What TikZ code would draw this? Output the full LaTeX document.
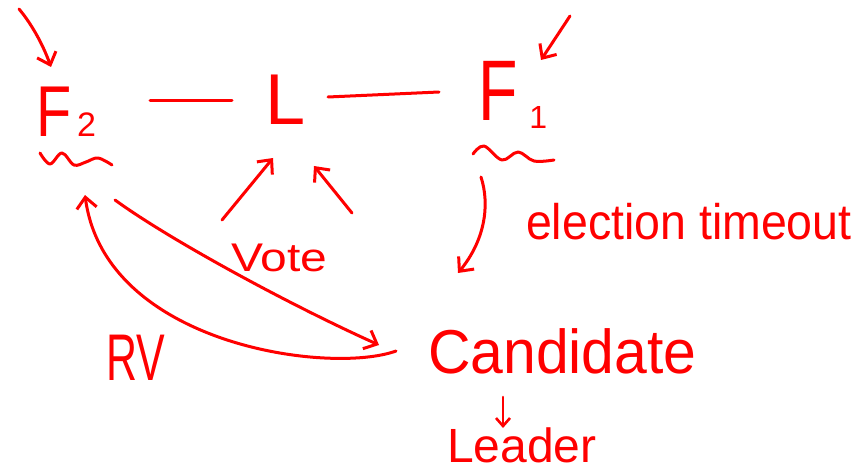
\documentclass[tikz,border=0pt]{standalone}
\usepackage{fontspec}
\usepackage{graphicx}
\setmainfont{Liberation Sans}
\usetikzlibrary{arrows.meta}
\definecolor{inkred}{RGB}{255,0,0}
\begin{document}
\begin{tikzpicture}[x=1pt,y=-1pt,
  ink/.style={draw=inkred, line width=3pt, line cap=round, line join=round},
  arr/.style={ink, -{Straight Barb[length=11pt,width=20pt]}},
  smallarr/.style={ink, line width=2.6pt, -{Straight Barb[length=8pt,width=14pt]}},
  hand/.style={text=inkred, inner sep=0pt, outer sep=0pt, anchor=base west}]
\fill[white] (0,0) rectangle (858,473);
\useasboundingbox (0,0) rectangle (858,473);

% terms
\node[hand] (f2) at (36,137) {\scalebox{0.8}[1]{\fontsize{72}{72}\selectfont F}\hspace{6pt}{\fontsize{34}{34}\selectfont 2}};
\node[hand] (lnode) at (265,125) {\fontsize{72}{72}\selectfont L};
\node[hand] (f1) at (478,121) {\scalebox{0.75}[1]{\fontsize{86}{86}\selectfont F}\hspace{12pt}\raisebox{-8pt}{\fontsize{32}{32}\selectfont 1}};
\node[hand] (vote) at (231,271) {\scalebox{1.2}[1]{\fontsize{40}{40}\selectfont Vote}};
\node[hand] (rv) at (106,380) {\scalebox{0.65}[1]{\fontsize{66}{66}\selectfont RV}};
\node[hand] (cand) at (428,373) {\scalebox{0.95}[1]{\fontsize{62}{62}\selectfont Candidate}};
\node[hand] (leader) at (447,462) {\fontsize{48}{48}\selectfont Leader};
\node[hand] (timeout) at (526,239) {\scalebox{0.93}[1]{\fontsize{50}{50}\selectfont election timeout}};

% tildes under the followers
\draw[ink] plot[smooth, tension=0.6] coordinates {(40,153) (50,164) (62,153) (74,165) (86,162) (98,158) (112,165)};
\draw[ink] plot[smooth, tension=0.6] coordinates {(473,154) (484,146) (502,160) (518,152) (534,161) (554,160)};

% connector end points
\coordinate (f2-in) at (19,9);
\coordinate (f2-top) at (51,67);
\coordinate (f1-in) at (570,16);
\coordinate (f1-top) at (541,60);
\coordinate (f2-r) at (150,101);
\coordinate (l-l) at (232,101);
\coordinate (l-r) at (328,97);
\coordinate (f1-l) at (439,92);
\coordinate (vote-a) at (222,220);
\coordinate (l-a) at (273,158);
\coordinate (vote-b) at (352,213);
\coordinate (l-b) at (314,166);
\coordinate (f1-down) at (481,177);
\coordinate (cand-top) at (458,273);
\coordinate (f2-out) at (115,200);
\coordinate (cand-in) at (379,345);
\coordinate (cand-out) at (396,351);
\coordinate (f2-bot) at (85,195);
\coordinate (cand-bot) at (503,397);
\coordinate (leader-top) at (503,428);

% connectors
\draw[arr] (f2-in) .. controls (30,22) and (42,42) .. (f2-top);
\draw[arr] (f1-in) -- (f1-top);
\draw[ink] (f2-r) -- (l-l);
\draw[ink] (l-r) -- (f1-l);
\draw[arr] (vote-a) -- (l-a);
\draw[arr] (vote-b) -- (l-b);
\draw[arr] (f1-down) .. controls (490,205) and (485,240) .. (cand-top);
\draw[arr] (f2-out) .. controls (170,240) and (290,305) .. (cand-in);
\draw[arr] (cand-out) .. controls (330,375) and (105,345) .. (f2-bot);
\draw[smallarr] (cand-bot) -- (leader-top);
\end{tikzpicture}
\end{document}
